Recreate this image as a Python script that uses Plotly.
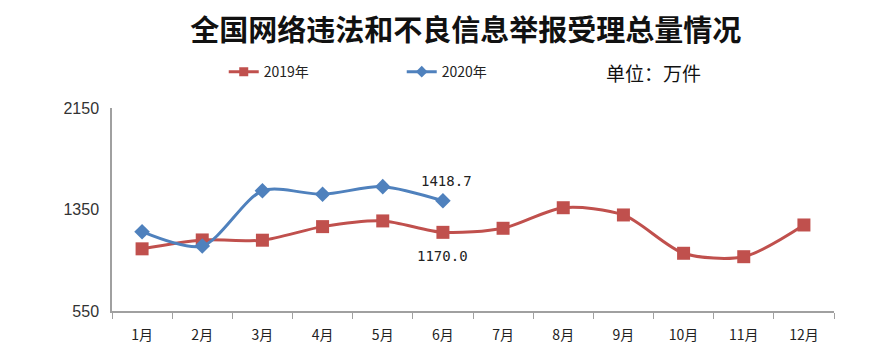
import plotly.graph_objects as go

months = ["1月", "2月", "3月", "4月", "5月", "6月", "7月", "8月", "9月", "10月", "11月", "12月"]
v2019 = [1040, 1110, 1108, 1215, 1260, 1170.0, 1202, 1364, 1307, 1005, 978, 1228]
months2020 = ["1月", "2月", "3月", "4月", "5月", "6月"]
v2020 = [1175, 1062, 1498, 1470, 1530, 1418.7]
yticks = [550, 1350, 2150]

red = "#C0504D"
blue = "#4F81BD"
cjk = "Noto Sans CJK SC"

fig = go.Figure()
fig.add_trace(go.Scatter(
    x=months, y=v2019, name="2019年", mode="lines+markers", showlegend=False,
    line=dict(color=red, width=3, shape="spline", smoothing=0.8),
    marker=dict(symbol="square", size=13, color=red),
))
fig.add_trace(go.Scatter(
    x=months2020, y=v2020, name="2020年", mode="lines+markers", showlegend=False,
    line=dict(color=blue, width=3, shape="spline", smoothing=0.8),
    marker=dict(symbol="diamond", size=12, color=blue),
))
# legend-only entries with smaller symbols
fig.add_trace(go.Scatter(
    x=[None], y=[None], name="2019年", mode="lines+markers",
    line=dict(color=red, width=3), marker=dict(symbol="square", size=9, color=red),
))
fig.add_trace(go.Scatter(
    x=[None], y=[None], name="2020年", mode="lines+markers",
    line=dict(color=blue, width=3), marker=dict(symbol="diamond", size=9, color=blue),
))

fig.add_annotation(x=months2020[-1], y=v2020[-1], text=f"{v2020[-1]:.1f}", showarrow=False,
                   xanchor="center", yanchor="bottom", yshift=10, xshift=4,
                   font=dict(family="DejaVu Sans Mono", size=14, color="#222"))
fig.add_annotation(x=months[5], y=v2019[5], text=f"{v2019[5]:.1f}", showarrow=False,
                   xanchor="center", yanchor="top", yshift=-14, xshift=0,
                   font=dict(family="DejaVu Sans Mono", size=14, color="#222"))
fig.add_annotation(xref="paper", yref="paper", x=0.681, y=1.177, text="单位：万件",
                   showarrow=False, xanchor="left", yanchor="middle",
                   font=dict(family=cjk, size=19, color="#111"))

fig.update_layout(
    width=877, height=348,
    margin=dict(l=104, r=51, t=100, b=45, autoexpand=False),
    paper_bgcolor="white", plot_bgcolor="white",
    title=dict(text="<b>全国网络违法和不良信息举报受理总量情况</b>", x=0.522, xanchor="center",
               y=0.934, yanchor="middle", yref="container",
               font=dict(family=cjk, size=29, color="#111")),
    legend=dict(orientation="h", x=0.246, xanchor="left", xref="container",
                y=0.816, yanchor="middle", yref="container",
                font=dict(family=cjk, size=14, color="#222"), itemwidth=30,
                tracegroupgap=0, entrywidth=133),
    showlegend=True,
    font=dict(family=cjk),
)
fig.update_xaxes(
    range=[-0.5, 11.5],
    showline=True, linecolor="#A0A0A0", linewidth=1.5, showgrid=False,
    tickson="boundaries", ticks="outside", ticklen=6, tickcolor="#A0A0A0",
    ticklabelstandoff=10,
    tickfont=dict(family=cjk, size=14, color="#222"),
)
fig.update_yaxes(
    range=[550, 2150], tickvals=yticks, showline=True, linecolor="#A0A0A0", linewidth=1.5,
    showgrid=False, zeroline=False, ticks="outside", ticklen=8, tickcolor="white",
    tickfont=dict(family="Liberation Sans", size=16, color="#333"),
)

fig.write_html("out.html")
